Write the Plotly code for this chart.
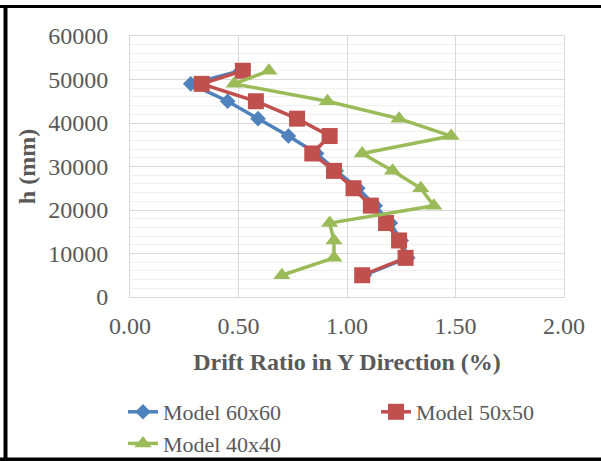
import plotly.graph_objects as go

heights = [5000, 9000, 13000, 17000, 21000, 25000, 29000, 33000, 37000, 41000, 45000, 49000, 52000]
m60 = [1.08, 1.28, 1.25, 1.20, 1.13, 1.05, 0.95, 0.86, 0.73, 0.59, 0.45, 0.28, 0.51]
m50 = [1.07, 1.27, 1.24, 1.18, 1.11, 1.03, 0.94, 0.84, 0.92, 0.77, 0.58, 0.33, 0.52]
m40 = [0.70, 0.94, 0.94, 0.92, 1.40, 1.34, 1.21, 1.07, 1.48, 1.24, 0.91, 0.48, 0.64]
series_names = ["Model 60x60", "Model 50x50", "Model 40x40"]
x_ticks = [0.0, 0.5, 1.0, 1.5, 2.0]
y_ticks = [0, 10000, 20000, 30000, 40000, 50000, 60000]

FONT = "Liberation Serif"
GREY = "#595959"

W, H = 601, 461
ML, MR, MT, MB = 130, 37, 36, 164
PW, PH = W - ML - MR, H - MT - MB

fig = go.Figure()
styles = [
    ("#4F81BD", "diamond", 12, "legend"),
    ("#C0504D", "square", 16, "legend2"),
    ("#9BBB59", "triangle-up", 15, "legend"),
]
for name, xs, (col, sym, sz, lg) in zip(series_names, [m60, m50, m40], styles):
    fig.add_trace(go.Scatter(
        x=xs, y=heights, name=name, mode="lines+markers",
        line=dict(color=col, width=3.5),
        marker=dict(color=col, symbol=sym, size=sz),
        legend=lg,
    ))

def px_x(p):
    return (p - ML) / PW

def px_y(p):
    return (H - MB - p) / PH

shapes = [
    dict(type="rect", xref="paper", yref="paper", x0=px_x(0), x1=px_x(W), y0=px_y(5), y1=px_y(8),
         fillcolor="black", line=dict(width=0), layer="above"),
    dict(type="rect", xref="paper", yref="paper", x0=px_x(3.5), x1=px_x(7.5), y0=px_y(8), y1=px_y(H),
         fillcolor="black", line=dict(width=0), layer="above"),
    dict(type="rect", xref="paper", yref="paper", x0=px_x(0), x1=px_x(W), y0=px_y(457.5), y1=px_y(H),
         fillcolor="black", line=dict(width=0), layer="above"),
]

legend_common = dict(
    orientation="h", xref="container", yref="container", xanchor="left", yanchor="top",
    font=dict(family=FONT, size=22, color=GREY),
    bgcolor="rgba(0,0,0,0)", tracegroupgap=0,
    entrywidth=200, entrywidthmode="pixels",
)

fig.update_layout(
    width=W, height=H,
    margin=dict(l=ML, r=MR, t=MT, b=MB, pad=0),
    paper_bgcolor="white", plot_bgcolor="white",
    font=dict(family=FONT, color=GREY, size=22),
    shapes=shapes,
    showlegend=True,
    legend=dict(legend_common, x=123 / W, y=1 - 391 / H),
    legend2=dict(legend_common, x=376 / W, y=1 - 391 / H),
)
fig.update_xaxes(
    range=[0, 2], tickvals=x_ticks, tickformat=".2f",
    showgrid=True, gridcolor="#d9d9d9", gridwidth=1,
    showline=True, linecolor="#d9d9d9", linewidth=1, mirror=True,
    zeroline=False, ticks="", ticklabelstandoff=7,
    tickfont=dict(family=FONT, size=24, color=GREY),
    title=dict(text="Drift Ratio in Y Direction (%)", standoff=15,
               font=dict(family=FONT, size=24, color=GREY, weight="bold")),
)
fig.update_yaxes(
    range=[0, 60000], tickvals=y_ticks, tickformat="d",
    showgrid=True, gridcolor="#d9d9d9", gridwidth=1,
    minor=dict(dtick=2000, showgrid=True, gridcolor="#f0f0f0", gridwidth=1),
    showline=True, linecolor="#d9d9d9", linewidth=1, mirror=True,
    zeroline=False, ticks="", ticklabelstandoff=16,
    tickfont=dict(family=FONT, size=24, color=GREY),
    title=dict(text="h (mm)", standoff=5,
               font=dict(family=FONT, size=24, color=GREY, weight="bold")),
)

fig.write_html("out.html")
